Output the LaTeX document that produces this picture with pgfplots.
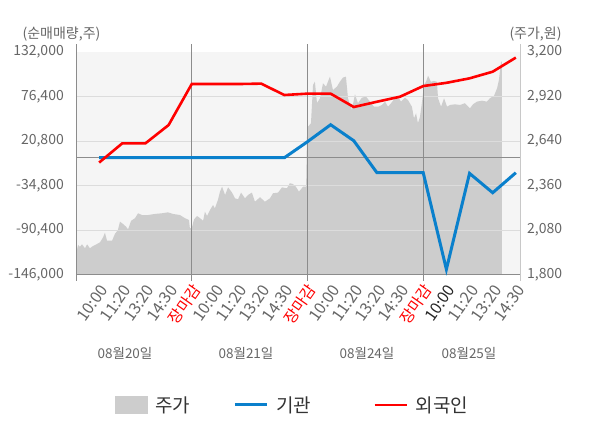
\documentclass[border=0pt]{standalone}
\usepackage{fontspec}
\setmainfont{Noto Sans CJK KR}
\usepackage{pgfplots}
\pgfplotsset{compat=1.18}
\definecolor{bg}{HTML}{F5F5F5}
\definecolor{areagray}{HTML}{CDCDCD}
\definecolor{gridgray}{HTML}{DCDCDC}
\definecolor{sepgray}{HTML}{8C8C8C}
\definecolor{rightgray}{HTML}{C8C8C8}
\definecolor{txtgray}{HTML}{666666}
\definecolor{instblue}{HTML}{0A80CC}
\definecolor{forred}{HTML}{FF0000}
\newcommand{\close}{\textcolor{forred}{\fontsize{15.5}{15.5}\selectfont 장마감}}
\begin{document}
\begin{tikzpicture}
\useasboundingbox (0,0) rectangle (600pt,428pt);
% price axis (right)
\begin{axis}[
  at={(76pt,153.3pt)}, anchor=south west,
  scale only axis, width=444pt, height=222.7pt,
  xmin=0, xmax=19.18, ymin=1800, ymax=3200,
  axis line style={draw=none},
  axis background/.style={fill=bg},
  xtick=\empty,
  ytick={1800,2080,2360,2640,2920,3200},
  yticklabels={{1,800},{2,080},{2,360},{2,640},{2,920},{3,200}},
  ytick pos=right, yticklabel pos=right,
  major tick length=0pt,
  scaled y ticks=false,
  /pgf/number format/assume math mode=true,
  yticklabel style={anchor=west, inner sep=0pt, xshift=7pt, font=\fontsize{14}{14}\selectfont, text=txtgray},
]
\addplot[fill=areagray, draw=none] coordinates {
(0,1800) (0,1930) (0.09,1987) (0.17,1976) (0.26,1991) (0.39,1966) (0.48,1991) (0.60,1966) (0.73,1980) (0.91,1993)
(1.04,2004) (1.17,2035) (1.25,2064) (1.34,2014) (1.56,2014) (1.68,2056) (1.81,2081) (1.90,2133) (2.03,2119) (2.16,2102)
(2.25,2085) (2.38,2139) (2.55,2155) (2.68,2186) (2.85,2175) (3.11,2175) (3.41,2182) (3.71,2186) (3.97,2192) (4.19,2182)
(4.49,2175) (4.71,2155) (4.88,2144) (4.92,2090) (5.01,2098) (5.10,2148) (5.23,2169) (5.36,2155) (5.49,2139) (5.57,2196)
(5.66,2169) (5.79,2207) (5.92,2238) (6.00,2217) (6.13,2270) (6.22,2322) (6.31,2353) (6.44,2301) (6.57,2349) (6.74,2316)
(6.87,2280) (7.00,2274) (7.13,2316) (7.30,2280) (7.43,2301) (7.60,2316) (7.73,2259) (7.95,2287) (8.16,2259) (8.38,2280)
(8.51,2312) (8.73,2316) (8.90,2349) (9.11,2343) (9.24,2375) (9.37,2370) (9.50,2353) (9.63,2322) (9.81,2353) (9.94,2353)
(9.98,2678) (10.02,2730) (10.15,2752) (10.24,2993) (10.32,3013) (10.41,2879) (10.54,2909) (10.67,3003) (10.80,2982) (10.97,3045)
(11.10,2961) (11.27,2982) (11.40,3013) (11.53,3039) (11.66,3045) (11.75,2909) (11.92,2835) (12.05,2934) (12.18,2878) (12.35,2913)
(12.53,2919) (12.70,2888) (12.87,2856) (13.05,2856) (13.22,2867) (13.35,2888) (13.48,2856) (13.61,2878) (13.78,2909) (13.91,2919)
(14.04,2888) (14.21,2913) (14.34,2898) (14.51,2856) (14.60,2783) (14.69,2815) (14.77,2752) (14.86,2793) (14.95,2888) (15.03,2993)
(15.12,3013) (15.21,3051) (15.33,3013) (15.46,3018) (15.59,3013) (15.64,2909) (15.77,2856) (15.90,2909) (16.03,2856) (16.16,2867)
(16.37,2871) (16.59,2867) (16.80,2878) (17.02,2846) (17.15,2871) (17.32,2888) (17.54,2894) (17.75,2888) (17.88,2909) (18.06,2925)
(18.19,2972) (18.27,3024) (18.36,3139) (18.40,3139) (18.40,1800)
};
\end{axis}
% volume axis (left)
\begin{axis}[
  at={(76pt,153.3pt)}, anchor=south west,
  scale only axis, width=444pt, height=222.7pt,
  xmin=0, xmax=19.18, ymin=-146000, ymax=132000,
  axis line style={draw=none},
  clip=false,
  xtick={1,...,19},
  xticklabels={10:00,11:20,13:20,14:30,\close,
               10:00,11:20,13:20,14:30,\close,
               10:00,11:20,13:20,14:30,\close,
               \textcolor{black!85}{10:00},11:20,13:20,14:30},
  xticklabel style={xshift=5pt, yshift=-12pt, rotate=55, anchor=east, inner sep=0pt, font=\fontsize{16}{16}\selectfont, text=txtgray},
  ytick={-146000,-90400,-34800,20800,76400},
  yticklabels={{-146,000},{-90,400},{-34,800},{20,800},{76,400}},
  extra y ticks={132000}, extra y tick labels={132{,}000},
  extra y tick style={grid=none},
  ytick pos=left,
  ymajorgrids, grid style={gridgray, line width=1pt},
  major tick length=0pt,
  scaled y ticks=false,
  /pgf/number format/assume math mode=true,
  yticklabel style={anchor=east, inner sep=0pt, xshift=-12pt, font=\fontsize{14}{14}\selectfont, text=txtgray},
  legend columns=3,
  legend style={at={(0.088,-0.585)}, anchor=west, draw=none, fill=none,
    inner sep=0pt, outer sep=0pt, column sep=8pt,
    font=\fontsize{19}{19}\selectfont, text=black!80,
    /tikz/column 2/.style={column sep=43pt},
    /tikz/column 4/.style={column sep=62pt},
    nodes={inner sep=0pt}},
  legend image code/.code={\draw[#1] (0pt,0pt) -- (32pt,0pt);},
]
\draw[sepgray, line width=1pt] (axis cs:0,-146000) -- (axis cs:19.18,-146000);
\draw[sepgray, line width=1pt] (axis cs:0,0) -- (axis cs:19.18,0);
\draw[sepgray, line width=1pt] ([yshift=-6pt]axis cs:0,-146000) -- ([yshift=8pt]axis cs:0,132000);
\draw[sepgray, line width=1pt] ([yshift=-6pt]axis cs:5,-146000) -- ([yshift=8pt]axis cs:5,132000);
\draw[sepgray, line width=1pt] ([yshift=-6pt]axis cs:10,-146000) -- ([yshift=8pt]axis cs:10,132000);
\draw[sepgray, line width=1pt] ([yshift=-6pt]axis cs:15,-146000) -- ([yshift=8pt]axis cs:15,132000);
\draw[rightgray, line width=1pt] ([yshift=-6pt]axis cs:19.18,-146000) -- ([yshift=8pt]axis cs:19.18,132000);
\addlegendimage{legend image code/.code={\fill[areagray] (0pt,-8.5pt) rectangle (32pt,8.5pt);}}
\addlegendentry{주가}
\addplot[instblue, line width=3pt] coordinates {
(1,0) (2,0) (3,0) (4,0) (5,0) (6,0) (7,0) (8,0) (9,0) (10,20000)
(11,41200) (12,21200) (13,-18700) (14,-18700) (15,-18700) (16,-139300) (17,-19500) (18,-43700) (19,-18700)
};
\addlegendentry{기관}
\addplot[forred, line width=2.6pt] coordinates {
(1,-6000) (2,18000) (3,18000) (4,40800) (5,92000) (6,92000) (7,92000) (8,92500) (9,78300) (10,80000)
(11,80000) (12,63300) (13,69900) (14,76200) (15,89500) (16,93500) (17,99100) (18,107400) (19,125000)
};
\addlegendentry{외국인}
\end{axis}
\node[text=txtgray, font=\fontsize{14}{14}\selectfont] at (61.5pt,394pt) {(순매매량,주)};
\node[text=txtgray, font=\fontsize{14}{14}\selectfont] at (535.5pt,394pt) {(주가,원)};
\node[text=txtgray, font=\fontsize{13.5}{13.5}\selectfont] at (125pt,75pt) {08월20일};
\node[text=txtgray, font=\fontsize{13.5}{13.5}\selectfont] at (246pt,75pt) {08월21일};
\node[text=txtgray, font=\fontsize{13.5}{13.5}\selectfont] at (367pt,75pt) {08월24일};
\node[text=txtgray, font=\fontsize{13.5}{13.5}\selectfont] at (469pt,75pt) {08월25일};
\end{tikzpicture}
\end{document}
